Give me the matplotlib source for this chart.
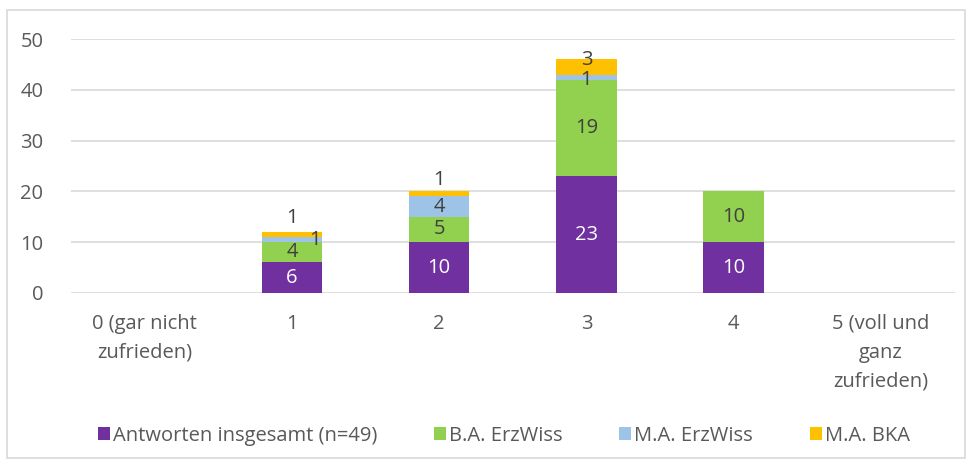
import matplotlib.pyplot as plt
from matplotlib.patches import Rectangle
import numpy as np

categories = ["0 (gar nicht\nzufrieden)", "1", "2", "3", "4", "5 (voll und\nganz\nzufrieden)"]
series_names = ["Antworten insgesamt (n=49)", "B.A. ErzWiss", "M.A. ErzWiss", "M.A. BKA"]
antworten = [0, 6, 10, 23, 10, 0]
ba_erzwiss = [0, 4, 5, 19, 10, 0]
ma_erzwiss = [0, 1, 4, 1, 0, 0]
ma_bka = [0, 1, 1, 3, 0, 0]

colors = ["#7030A0", "#92D050", "#9DC3E6", "#FFC000"]
label_colors = ["white", "#404040", "#404040", "#404040"]
# manual nudges of some data labels (series, category, dx, dy) like in the original
nudges = {(2, 1): (0.16, 0.0), (3, 1): (0.0, 3.3), (3, 2): (0.0, 2.7), (3, 3): (0.0, 1.4), (2, 3): (0.0, -0.5)}

plt.rcParams['font.family'] = ['Open Sans', 'DejaVu Sans']
text_col = "#595959"
fs = 14.5

fig = plt.figure(figsize=(9.73, 4.65), dpi=100)
ax = fig.add_axes([0.073, 0.370, 0.908, 0.546])

x = np.arange(len(categories))
bottom = np.zeros(len(categories))
handles = []
for s, vals in enumerate([antworten, ba_erzwiss, ma_erzwiss, ma_bka]):
    vals = np.array(vals, dtype=float)
    h = ax.bar(x, vals, 0.41, bottom=bottom, color=colors[s], zorder=2)
    handles.append(h)
    for i, v in enumerate(vals):
        if v > 0:
            dx, dy = nudges.get((s, i), (0.0, 0.0))
            ax.text(x[i] + dx, bottom[i] + v / 2 + dy, "%d" % v, ha='center', va='center',
                    fontsize=fs, color=label_colors[s], zorder=3)
    bottom += vals

ax.set_xlim(-0.5, len(categories) - 0.5)
ax.set_ylim(0, 50)
ax.set_yticks([0, 10, 20, 30, 40, 50])
ax.yaxis.grid(True, color="#d9d9d9", linewidth=1.2, zorder=0)
ax.set_xticks(x)
ax.set_xticklabels(categories, fontsize=fs, color=text_col, linespacing=1.6, va='top')
ax.tick_params(axis='y', labelsize=fs, labelcolor=text_col, length=0, pad=20)
ax.tick_params(axis='x', length=0, pad=15)
for sp in ax.spines.values():
    sp.set_visible(False)

leg = fig.legend(handles, series_names, loc='center', bbox_to_anchor=(0.518, 0.063), ncol=4,
                 frameon=False, fontsize=fs, handlelength=0.6, handleheight=0.6,
                 handletextpad=0.15, columnspacing=2.8, labelcolor=text_col)

fig.patches.append(Rectangle((7 / 973, 7 / 465), 958 / 973, 448 / 465, transform=fig.transFigure,
                             fill=False, edgecolor="#d9d9d9", linewidth=1.2))

fig.savefig("out.png", dpi=100)
